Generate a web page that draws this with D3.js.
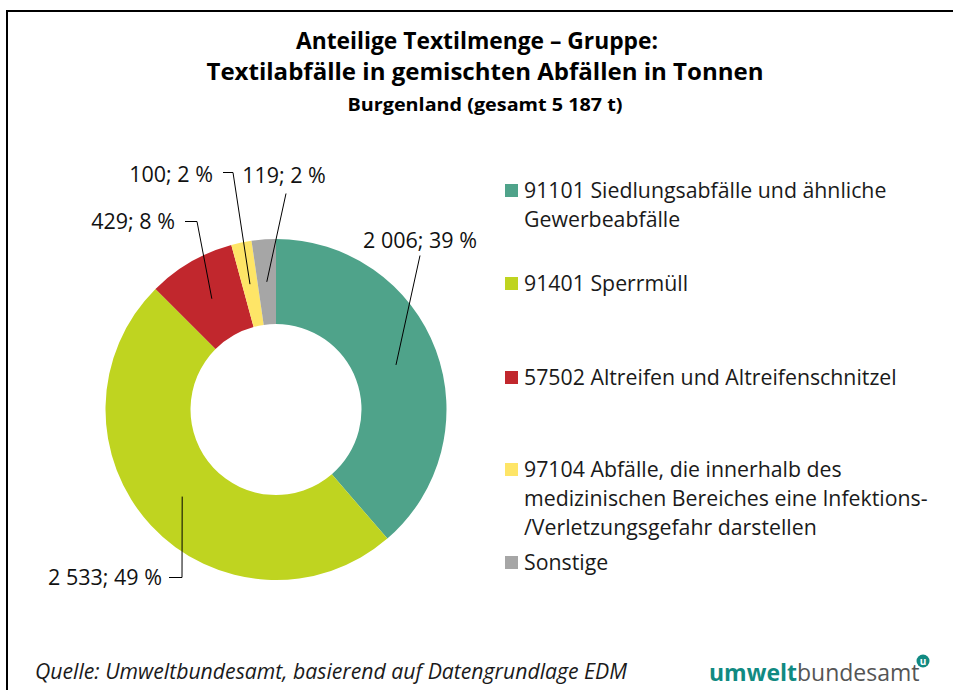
<!DOCTYPE html>
<html>
<head>
<meta charset="utf-8">
<script src="https://cdn.jsdelivr.net/npm/d3@7"></script>
<style>
  body { margin: 0; background: #fff; }
  svg { display: block; font-family: "Open Sans", sans-serif; }
</style>
</head>
<body>
<div id="chart"></div>
<script>
// data
var categories = [
  "91101 Siedlungsabfälle und ähnliche Gewerbeabfälle",
  "91401 Sperrmüll",
  "57502 Altreifen und Altreifenschnitzel",
  "97104 Abfälle, die innerhalb des medizinischen Bereiches eine Infektions-/Verletzungsgefahr darstellen",
  "Sonstige"
];
var values = [2006, 2533, 429, 100, 119];
var percentLabels = ["39 %", "49 %", "8 %", "2 %", "2 %"];
var valueLabels = ["2 006", "2 533", "429", "100", "119"];
var colors = ["#4fa38a", "#bfd420", "#c1272d", "#fee567", "#a6a6a6"];

// legend lines as wrapped in the original
var legendLines = [
  ["91101 Siedlungsabfälle und ähnliche", "Gewerbeabfälle"],
  ["91401 Sperrmüll"],
  ["57502 Altreifen und Altreifenschnitzel"],
  ["97104 Abfälle, die innerhalb des", "medizinischen Bereiches eine Infektions-", "/Verletzungsgefahr darstellen"],
  ["Sonstige"]
];
var legendY = [191, 284, 378, 470, 563];

var svgWidth = 953;
var svgHeight = 690;

var svg = d3.select("#chart")
  .append("svg")
  .attr("width", svgWidth)
  .attr("height", svgHeight);

// frame (left + top)
svg.append("path")
  .attr("d", "M7,690 L7,11 L953,11")
  .attr("fill", "none")
  .attr("stroke", "#000")
  .attr("stroke-width", 2);

// titles
svg.append("text")
  .attr("x", 477).attr("y", 49)
  .attr("text-anchor", "middle")
  .attr("font-size", "23px").attr("font-weight", "bold")
  .attr("textLength", 362).attr("lengthAdjust", "spacingAndGlyphs")
  .text("Anteilige Textilmenge – Gruppe:");
svg.append("text")
  .attr("x", 485).attr("y", 80)
  .attr("text-anchor", "middle")
  .attr("font-size", "23px").attr("font-weight", "bold")
  .attr("textLength", 557).attr("lengthAdjust", "spacingAndGlyphs")
  .text("Textilabfälle in gemischten Abfällen in Tonnen");
svg.append("text")
  .attr("x", 485).attr("y", 111)
  .attr("text-anchor", "middle")
  .attr("font-size", "18.5px").attr("font-weight", "bold")
  .attr("textLength", 275).attr("lengthAdjust", "spacingAndGlyphs")
  .text("Burgenland (gesamt 5 187 t)");

// donut
var cx = 276, cy = 409.5;
var outerR = 170.5, innerR = 85.5;

var pie = d3.pie().sort(null).value(d => d);
var arcs = pie(values);
var arc = d3.arc().innerRadius(innerR).outerRadius(outerR);

var pieGroup = svg.append("g")
  .attr("transform", `translate(${cx},${cy})`);

pieGroup.selectAll("path")
  .data(arcs)
  .enter()
  .append("path")
  .attr("d", arc)
  .attr("fill", (d, i) => colors[i]);

// label layout: text anchor point relative to pie centre, leader elbow
var labelLayout = [
  { tx: 144, ty: -162, anchor: "middle", ex: 144, ey: -154, hx: null },
  { tx: -114, ty: 168, anchor: "end", ex: -94, ey: 168, hx: -107 },
  { tx: -101, ty: -188, anchor: "end", ex: -79, ey: -188, hx: -91 },
  { tx: -63, ty: -235, anchor: "end", ex: -43, ey: -237, hx: -53 },
  { tx: 8, ty: -227, anchor: "middle", ex: 10, ey: -216, hx: null }
];

var labelGroup = pieGroup.append("g");

arcs.forEach(function(d, i) {
  var c = arc.centroid(d);
  var L = labelLayout[i];
  var pts = [[c[0], c[1]], [L.ex, L.ey]];
  if (L.hx !== null) pts.push([L.hx, L.ey]);
  labelGroup.append("path")
    .attr("d", d3.line()(pts))
    .attr("fill", "none")
    .attr("stroke", "#000")
    .attr("stroke-width", 1);
  labelGroup.append("text")
    .attr("x", L.tx)
    .attr("y", L.ty)
    .attr("dy", L.anchor === "middle" ? "0" : "0.35em")
    .attr("text-anchor", L.anchor)
    .attr("font-size", "21.5px")
    .attr("fill", "#111")
    .text(valueLabels[i] + "; " + percentLabels[i]);
});

// legend
var legend = svg.append("g");
legendLines.forEach(function(lines, i) {
  var g = legend.append("g").attr("transform", `translate(505,${legendY[i]})`);
  g.append("rect")
    .attr("x", 0).attr("y", -7)
    .attr("width", 13).attr("height", 13)
    .attr("fill", colors[i]);
  lines.forEach(function(t, j) {
    g.append("text")
      .attr("x", 19)
      .attr("y", j * 29)
      .attr("dy", "0.35em")
      .attr("font-size", "21.3px")
      .attr("fill", "#1a1a1a")
      .text(t);
  });
});

// source
svg.append("text")
  .attr("x", 35).attr("y", 679)
  .attr("font-size", "21.2px")
  .attr("font-style", "italic")
  .attr("fill", "#1a1a1a")
  .attr("textLength", 592).attr("lengthAdjust", "spacingAndGlyphs")
  .text("Quelle: Umweltbundesamt, basierend auf Datengrundlage EDM");

// logo
var logo = svg.append("text")
  .attr("x", 709).attr("y", 681)
  .attr("font-size", "23px");
logo.append("tspan").attr("font-weight", "bold").attr("fill", "#118a82").text("umwelt");
logo.append("tspan").attr("fill", "#555").text("bundesamt");
svg.append("circle")
  .attr("cx", 923).attr("cy", 661).attr("r", 6.5)
  .attr("fill", "#118a82");
svg.append("text")
  .attr("x", 923).attr("y", 664.5)
  .attr("text-anchor", "middle")
  .attr("font-size", "10px").attr("font-weight", "bold")
  .attr("fill", "#fff")
  .text("u");
</script>
</body>
</html>
